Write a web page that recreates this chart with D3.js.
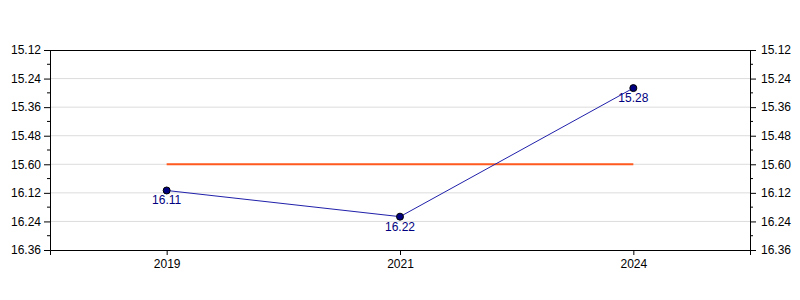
<!doctype html>
<html>
<head>
  <meta charset="utf-8">
  <title>Chart</title>
  <script src="https://d3js.org/d3.v7.min.js"></script>
  <style>
    body { margin: 0; background: #fff; }
    text { font-family: "Liberation Sans", Arial, sans-serif; }
  </style>
</head>
<body>
  <div id="chart"></div>
  <script>
    // data (times written as min.sec)
    var years = ["2019", "2021", "2024"];
    var times = ["16.11", "16.22", "15.28"];
    var target = "15.60";
    var tickLabels = ["15.12", "15.24", "15.36", "15.48", "15.60", "16.12", "16.24", "16.36"];

    // "15.60" -> 15*60 + 60 seconds
    function toSec(s) {
      var p = s.split(".");
      return +p[0] * 60 + +p[1];
    }

    var W = 800, H = 300;
    var margin = { top: 50, right: 50, bottom: 50, left: 50 },
      width = W - margin.left - margin.right,
      height = H - margin.top - margin.bottom;

    var svg = d3.select("#chart").append("svg")
      .attr("width", W).attr("height", H)
      .append("g")
      .attr("transform", "translate(" + margin.left + "," + margin.top + ")");

    var tickVals = tickLabels.map(toSec);

    var x = d3.scalePoint().domain(years).range([0, width]).padding(0.5);
    var y = d3.scaleLinear()
      .domain([d3.min(tickVals), d3.max(tickVals)])
      .range([0, height]);

    // minor ticks halfway between majors
    var minorVals = [];
    for (var i = 0; i < tickVals.length - 1; i++) minorVals.push((tickVals[i] + tickVals[i + 1]) / 2);

    // gridlines
    svg.append("g").selectAll("line")
      .data(tickVals.slice(1, -1))
      .join("line")
      .attr("x1", 0).attr("x2", width)
      .attr("y1", function (d) { return y(d); })
      .attr("y2", function (d) { return y(d); })
      .attr("stroke", "#dcdcdc");

    // frame top & bottom
    svg.append("line").attr("x1", 0).attr("x2", width).attr("y1", 0.5).attr("y2", 0.5).attr("stroke", "#000");

    var fmt = function (d) { return tickLabels[tickVals.indexOf(d)]; };

    // left axis
    var left = svg.append("g")
      .call(d3.axisLeft(y).tickValues(tickVals).tickFormat(fmt).tickSize(6).tickPadding(3));
    left.append("g").selectAll("line").data(minorVals).join("line")
      .attr("x1", -3).attr("x2", 0)
      .attr("y1", function (d) { return y(d); }).attr("y2", function (d) { return y(d); })
      .attr("stroke", "#000");

    // right axis
    var right = svg.append("g")
      .attr("transform", "translate(" + width + ",0)")
      .call(d3.axisRight(y).tickValues(tickVals).tickFormat(fmt).tickSize(6).tickPadding(5));
    right.append("g").selectAll("line").data(minorVals).join("line")
      .attr("x1", 0).attr("x2", 3)
      .attr("y1", function (d) { return y(d); }).attr("y2", function (d) { return y(d); })
      .attr("stroke", "#000");

    // bottom axis
    var bottom = svg.append("g")
      .attr("transform", "translate(0," + height + ")")
      .call(d3.axisBottom(x).tickSize(5).tickPadding(4));

    [left, right, bottom].forEach(function (g) {
      g.selectAll("text").attr("font-size", 12).attr("fill", "#000")
        .style("font-family", "'Liberation Sans', Arial, sans-serif");
      g.select(".domain").attr("stroke", "#000");
    });

    // target line
    svg.append("line")
      .attr("x1", x(years[0])).attr("x2", x(years[years.length - 1]))
      .attr("y1", y(toSec(target))).attr("y2", y(toSec(target)))
      .attr("stroke", "#ff5a1f")
      .attr("stroke-width", 2);

    // series
    var pts = years.map(function (yr, i) { return { year: yr, label: times[i], v: toSec(times[i]) }; });

    svg.append("path")
      .datum(pts)
      .attr("fill", "none")
      .attr("stroke", "#2020aa")
      .attr("stroke-width", 1)
      .attr("d", d3.line()
        .x(function (d) { return x(d.year); })
        .y(function (d) { return y(d.v); }));

    svg.selectAll(".dot").data(pts).join("circle")
      .attr("class", "dot")
      .attr("cx", function (d) { return x(d.year); })
      .attr("cy", function (d) { return y(d.v); })
      .attr("r", 3.5)
      .attr("fill", "#000080")
      .attr("stroke", "#000");

    svg.selectAll(".lbl").data(pts).join("text")
      .attr("class", "lbl")
      .attr("x", function (d) { return x(d.year); })
      .attr("y", function (d) { return y(d.v) + 14; })
      .attr("text-anchor", "middle")
      .attr("font-size", 12)
      .attr("fill", "#000080")
      .text(function (d) { return d.label; });
  </script>
</body>
</html>
